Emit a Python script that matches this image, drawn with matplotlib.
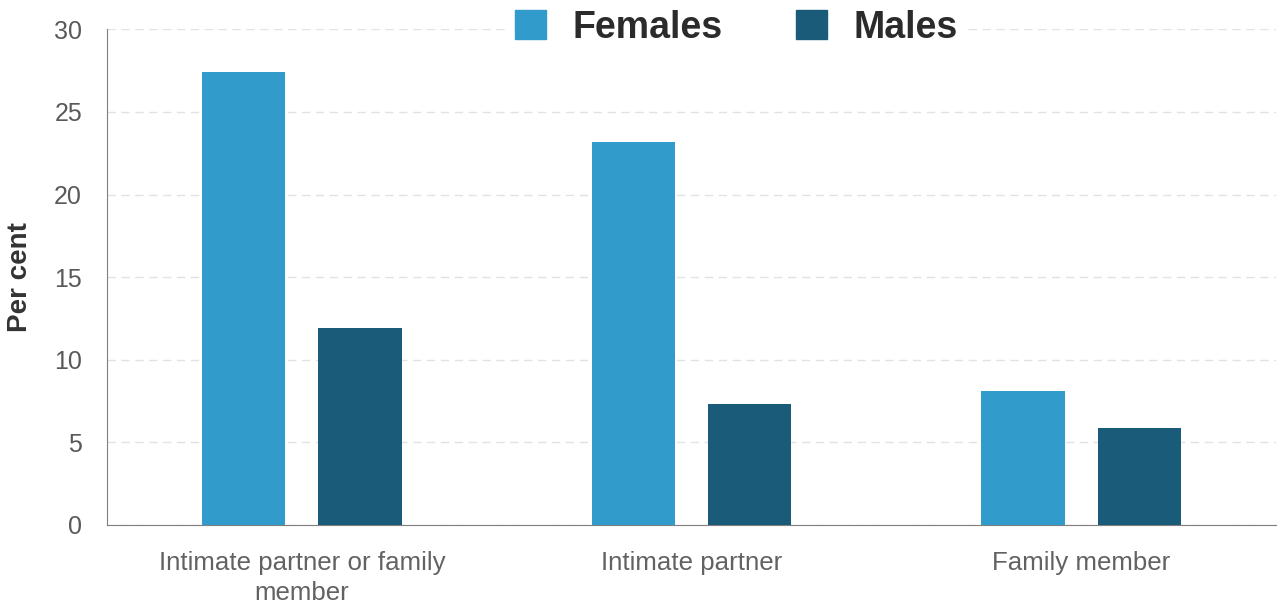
import matplotlib.pyplot as plt
from matplotlib.patches import Patch
import numpy as np

plt.rcParams['font.family'] = ['Liberation Sans', 'DejaVu Sans']

categories = ["Intimate partner or family\nmember", "Intimate partner", "Family member"]
females = [27.4, 23.2, 8.1]
males = [11.9, 7.3, 5.9]

female_col = "#319bcb"
male_col = "#195b79"

fig = plt.figure(figsize=(12.82, 6.10), dpi=100)
ax = fig.add_axes([107 / 1282, 1 - 525 / 610, 1169 / 1282, (525 - 29.3) / 610])

x = np.arange(len(categories))
w = 0.214
off = 0.149
ax.bar(x - off, females, w, color=female_col, zorder=3)
ax.bar(x + off, males, w, color=male_col, zorder=3)

ax.set_xlim(-0.5, 2.5)
ax.set_ylim(0, 30)
ax.set_yticks([0, 5, 10, 15, 20, 25, 30])
ax.yaxis.grid(True, color="#e2e2e2", linestyle=(0, (6, 4)), linewidth=1, zorder=0)
ax.set_axisbelow(True)

ax.set_xticks(x)
ax.set_xticklabels(categories, fontsize=18.6, color="#626262", linespacing=1.3)
ax.tick_params(axis='x', length=0, pad=19)
ax.tick_params(axis='y', length=0, pad=18, labelsize=18, labelcolor="#595959")

for s in ["top", "right"]:
    ax.spines[s].set_visible(False)
ax.spines["left"].set_color("#7f7f7f")
ax.spines["bottom"].set_color("#7f7f7f")

ax.set_ylabel("Per cent", fontsize=20, fontweight="bold", color="#333333", labelpad=15)

handles = [Patch(color=female_col, label="Females"), Patch(color=male_col, label="Males")]
leg = fig.legend(handles=handles, loc="center", bbox_to_anchor=(736 / 1282, 1 - 27.5 / 610),
                 ncol=2, frameon=True, framealpha=1, edgecolor="white", facecolor="white",
                 prop={'size': 27, 'weight': 'bold'}, handlelength=0.85, handleheight=0.85,
                 handletextpad=0.69, columnspacing=1.95, borderpad=0.2, fancybox=False)
for t in leg.get_texts():
    t.set_color("#2b2b2b")

fig.savefig("out.png", dpi=100)
